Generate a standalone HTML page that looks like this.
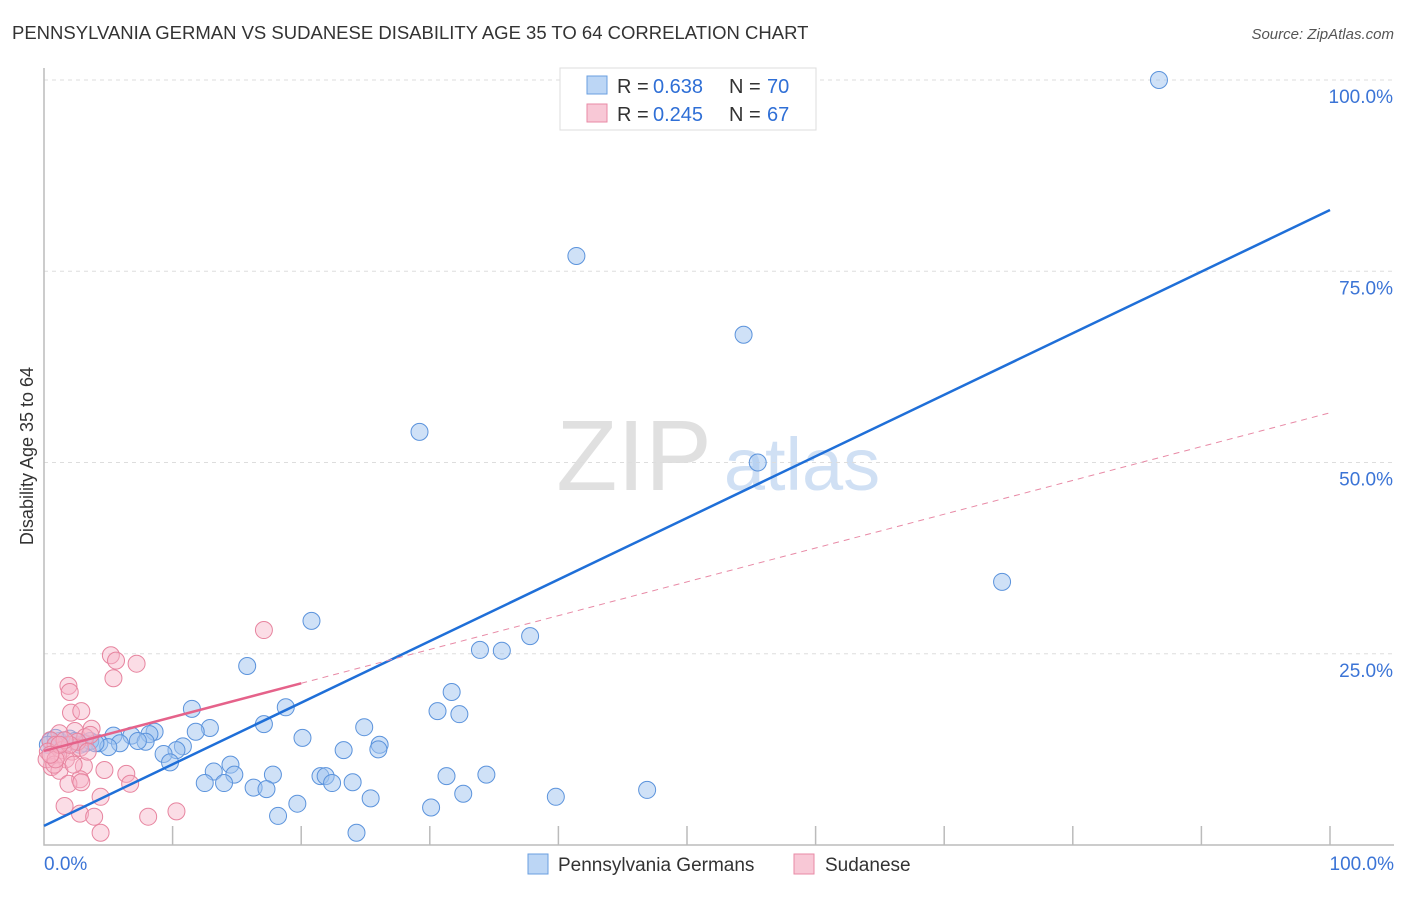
<!DOCTYPE html>
<html><head><meta charset="utf-8"><style>
body{margin:0;background:#fff;font-family:"Liberation Sans",sans-serif}
svg text{font-family:"Liberation Sans",sans-serif}
</style></head><body>
<svg id="c" width="1406" height="892" xmlns="http://www.w3.org/2000/svg">
<text x="12" y="39" font-size="18.5" fill="#333">PENNSYLVANIA GERMAN VS SUDANESE DISABILITY AGE 35 TO 64 CORRELATION CHART</text>
<text x="1394" y="39" font-size="15" fill="#555" font-style="italic" text-anchor="end">Source: ZipAtlas.com</text>
<text x="33" y="456" font-size="18" fill="#333" text-anchor="middle" transform="rotate(-90 33 456)">Disability Age 35 to 64</text>
<g opacity="0.55">
<text x="634" y="490" font-size="100" fill="#c8c8c8" font-family="Liberation Serif,serif" text-anchor="middle">ZIP</text>
<text x="802" y="490" font-size="74" fill="#aac8ec" text-anchor="middle">atlas</text>
</g>
<g id="grid"></g><g id="pts"></g><g id="lines"></g>
<g>
<rect x="560" y="68" width="256" height="62" fill="#fff" stroke="#ddd"/>
<rect x="587" y="76" width="20" height="18" fill="#bcd6f5" stroke="#6a9fe0"/>
<text x="617" y="93" font-size="20" fill="#333">R =</text><text x="653" y="93" font-size="20" fill="#2f6fd6">0.638</text>
<text x="729" y="93" font-size="20" fill="#333">N =</text><text x="767" y="93" font-size="20" fill="#2f6fd6">70</text>
<rect x="587" y="104" width="20" height="18" fill="#f8c8d6" stroke="#e88aa6"/>
<text x="617" y="121" font-size="20" fill="#333">R =</text><text x="653" y="121" font-size="20" fill="#2f6fd6">0.245</text>
<text x="729" y="121" font-size="20" fill="#333">N =</text><text x="767" y="121" font-size="20" fill="#2f6fd6">67</text>
</g>
<g>
<rect x="528" y="854" width="20" height="20" fill="#bcd6f5" stroke="#6a9fe0"/>
<text x="558" y="871" font-size="19" fill="#333">Pennsylvania Germans</text>
<rect x="794" y="854" width="20" height="20" fill="#f8c8d6" stroke="#e88aa6"/>
<text x="825" y="871" font-size="19" fill="#333">Sudanese</text>
</g>
</svg>
<script>
const blueX=[86.7,41.4,54.4,29.2,55.5,74.5,20.8,37.8,33.9,35.6,15.8,31.7,11.5,30.6,32.3,18.8,17.1,12.9,11.8,24.9,8.6,8.2,20.1,6.8,5.4,26.1,7.9,7.3,5.9,4.3,5.0,10.8,10.3,23.3,26.0,9.3,9.8,14.5,13.2,14.8,17.8,21.5,21.9,31.3,34.4,12.5,14.0,22.4,24.0,16.3,17.3,25.4,32.6,39.8,46.9,19.7,30.1,18.2,24.3,1.2,2.0,3.2,3.6,0.5,2.8,1.6,0.9,4.0,2.4,0.3];
const blueY=[100,77,66.7,54,50,34.4,29.3,27.3,25.5,25.4,23.4,20.0,17.8,17.5,17.1,18.0,15.8,15.3,14.8,15.4,14.8,14.5,14.0,14.3,14.3,13.1,13.5,13.6,13.3,13.3,12.8,12.9,12.4,12.4,12.5,11.9,10.8,10.5,9.6,9.2,9.2,9.0,9.0,9.0,9.2,8.1,8.1,8.1,8.2,7.5,7.3,6.1,6.7,6.3,7.2,5.4,4.9,3.8,1.6,13.6,13.9,13.3,13.6,13.6,13.1,13.1,14.0,13.3,13.6,13.1];
const pinkX=[17.1,5.2,5.6,7.2,5.4,1.9,2.0,2.1,2.9,3.7,2.4,1.2,3.2,0.5,0.9,1.4,2.2,2.8,0.3,1.1,1.7,3.1,0.6,1.2,4.7,6.4,2.8,1.9,6.7,2.9,4.4,1.6,2.8,3.9,8.1,10.3,4.4,3.6,2.6,0.2,0.8,2.0,1.6,0.9,2.3,3.4,1.2,0.5];
const pinkY=[28.1,24.8,24.1,23.7,21.8,20.8,20.0,17.3,17.5,15.2,14.9,14.6,14.1,13.7,13.1,12.4,12.2,12.7,12.2,11.8,11.2,10.3,10.2,9.7,9.8,9.3,8.6,8.0,8.0,8.2,6.3,5.1,4.1,3.7,3.7,4.4,1.6,14.4,13.5,11.2,10.5,13.1,13.7,11.2,10.5,12.2,13.1,11.8];
const yTicks=[25,50,75,100], yLabels=["25.0%","50.0%","75.0%","100.0%"];
const xTicks=[10,20,30,40,50,60,70,80,90,100];
const blueFit=[2.5,83.0], pinkFit=[12.3,56.5];
const X=v=>44+v*12.86, Y=v=>845-v*7.65;
const NS="http://www.w3.org/2000/svg";
function mk(t,a,p){const e=document.createElementNS(NS,t);for(const k in a)e.setAttribute(k,a[k]);p.appendChild(e);return e;}
const g=document.getElementById('grid');
yTicks.forEach((v,i)=>{const l=mk('line',{x1:44,x2:1394,y1:Y(v),y2:Y(v),stroke:'#ddd','stroke-dasharray':'4,4'},g);


const t=mk('text',{x:1393,y:Y(v)+23,'font-size':19,fill:'#3b74d6','text-anchor':'end'},g);t.textContent=yLabels[i];

});
const ax=mk('path',{d:'M44 68V845H1394',fill:'none',stroke:'#bbb','stroke-width':1.5},g);


xTicks.forEach(v=>{const l=mk('line',{x1:X(v),x2:X(v),y1:826,y2:845,stroke:'#bbb','stroke-width':1.5},g);

});
[["0.0%",44,'start'],["100.0%",1394,'end']].forEach(a=>{const t=mk('text',{x:a[1],y:870,'font-size':19,fill:'#3b74d6','text-anchor':a[2]},g);t.textContent=a[0];

});
const p=document.getElementById('pts');
blueX.forEach((x,i)=>{const c=mk('circle',{cx:X(x),cy:Y(blueY[i]),r:8.5,fill:'rgba(160,196,240,0.5)',stroke:'#5b93dc','stroke-width':1},p);

});
pinkX.forEach((x,i)=>{const c=mk('circle',{cx:X(x),cy:Y(pinkY[i]),r:8.5,fill:'rgba(246,180,200,0.45)',stroke:'#e7849f','stroke-width':1},p);

});
const L=document.getElementById('lines');
const b=mk('line',{x1:X(0),y1:Y(blueFit[0]),x2:X(100),y2:Y(blueFit[1]),stroke:'#1f6fd8','stroke-width':2.5},L);


const pm=pinkFit[0]+(pinkFit[1]-pinkFit[0])*0.2;
const ps=mk('line',{x1:X(0),y1:Y(pinkFit[0]),x2:X(20),y2:Y(pm),stroke:'#e5628a','stroke-width':2.5},L);


const pd=mk('line',{x1:X(20),y1:Y(pm),x2:X(100),y2:Y(pinkFit[1]),stroke:'#e88aa6','stroke-width':1,'stroke-dasharray':'6,5'},L);


</script>
</body></html>
